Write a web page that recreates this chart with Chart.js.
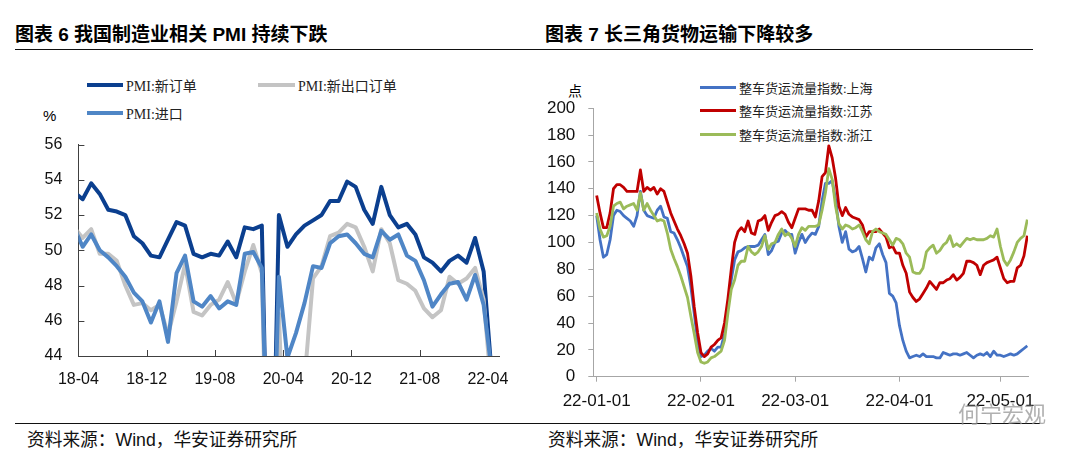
<!DOCTYPE html>
<html lang="zh-CN">
<head>
<meta charset="utf-8">
<title>制造业 PMI 与长三角货运</title>
<script src="https://cdn.jsdelivr.net/npm/chart.js@4.4.1/dist/chart.umd.min.js"></script>
<style>
  html, body { margin: 0; padding: 0; background: #fff; }
  body { width: 1080px; height: 460px; position: relative; overflow: hidden;
         font-family: "Liberation Sans", "Noto Sans CJK SC", sans-serif; color: #000; }
  .abs { position: absolute; white-space: nowrap; }
  .title { font-weight: bold; font-size: 19px; line-height: 22px; }
  .rule { position: absolute; height: 0; border-top: 1.5px solid #111; }
  .lg { position: absolute; height: 16px; display: flex; align-items: center; white-space: nowrap;
        font-family: "Liberation Serif", "Noto Sans CJK SC", serif; color: #222; }
  .lg i { display: inline-block; margin-right: 3px; }
  .src { font-size: 17.7px; color: #111; }
  canvas { position: absolute; }
</style>
</head>
<body>

<div class="abs title" style="left:15px; top:24px;">图表 6 我国制造业相关 PMI 持续下跌</div>
<div class="abs title" style="left:545px; top:24px;">图表 7 长三角货物运输下降较多</div>
<div class="rule" style="left:15px; top:49px; width:1018px;"></div>

<!-- left legend -->
<div class="lg" style="left:87px; top:77px; font-size:14px;"><i style="width:36px; border-top:4px solid #0b3f8f;"></i>PMI:新订单</div>
<div class="lg" style="left:258px; top:77px; font-size:14px;"><i style="width:37px; border-top:4px solid #c4c4c4;"></i>PMI:新出口订单</div>
<div class="lg" style="left:87px; top:105px; font-size:14px;"><i style="width:36px; border-top:4px solid #4f86c6;"></i>PMI:进口</div>
<div class="abs" style="left:43px; top:107px; font-size:15px;">%</div>

<!-- right legend -->
<div class="lg" style="left:700px; top:79px; font-size:13px;"><i style="width:36px; border-top:3px solid #4472c4;"></i>整车货运流量指数:上海</div>
<div class="lg" style="left:700px; top:102px; font-size:13px;"><i style="width:36px; border-top:3px solid #c00000;"></i>整车货运流量指数:江苏</div>
<div class="lg" style="left:700px; top:126px; font-size:13px;"><i style="width:36px; border-top:3px solid #9bbb59;"></i>整车货运流量指数:浙江</div>
<div class="abs" style="left:568px; top:80px; font-size:14px;">点</div>

<canvas id="pmi" width="530" height="281" style="left:0; top:119px;"></canvas>
<canvas id="freight" width="540" height="330" style="left:540px; top:85px;"></canvas>

<div class="rule" style="left:15px; top:423px; width:1025px;"></div>
<div class="abs src" style="left:27px; top:425px;">资料来源：Wind，华安证券研究所</div>
<div class="abs src" style="left:548px; top:425px;">资料来源：Wind，华安证券研究所</div>
<div class="abs" style="left:958px; top:396px; font-size:22px; color:rgba(150,150,150,0.75);">何宁宏观</div>

<script>
// ---- 图表6: PMI monthly, 18-03 .. 22-04 (18-03 sits left of the axis and gets clipped)
const pmiMonths = [
  '18-03','18-04','18-05','18-06','18-07','18-08','18-09','18-10','18-11','18-12',
  '19-01','19-02','19-03','19-04','19-05','19-06','19-07','19-08','19-09','19-10','19-11','19-12',
  '20-01','20-02','20-03','20-04','20-05','20-06','20-07','20-08','20-09','20-10','20-11','20-12',
  '21-01','21-02','21-03','21-04','21-05','21-06','21-07','21-08','21-09','21-10','21-11','21-12',
  '22-01','22-02','22-03','22-04'
];
const newOrders = [
  53.3, 52.9, 53.8, 53.2, 52.3, 52.2, 52.0, 50.8, 50.4, 49.7,
  49.6, 50.6, 51.6, 51.4, 49.8, 49.6, 49.8, 49.7, 50.5, 49.6, 51.3, 51.2,
  51.4, 29.3, 52.0, 50.2, 50.9, 51.4, 51.7, 52.0, 52.8, 52.8, 53.9, 53.6,
  52.3, 51.5, 53.6, 52.0, 51.3, 51.5, 50.9, 49.6, 49.3, 48.8, 49.4, 49.7,
  49.3, 50.7, 48.8, 42.6
];
const exportOrders = [
  51.3, 50.7, 51.2, 49.8, 49.8, 49.4, 48.0, 46.9, 47.0, 46.6,
  46.9, 45.2, 47.1, 49.2, 46.5, 46.3, 46.9, 47.2, 48.2, 47.0, 48.8, 50.3,
  48.7, 28.7, 46.4, 33.5, 35.3, 42.6, 48.4, 49.1, 50.8, 51.0, 51.5, 51.3,
  50.2, 48.8, 51.2, 50.4, 48.3, 48.1, 47.7, 46.7, 46.2, 46.6, 48.5, 48.1,
  48.4, 49.0, 47.2, 41.6
];
const imports = [
  51.3, 50.2, 50.9, 50.0, 49.6, 49.1, 48.5, 47.6, 47.1, 45.9,
  47.1, 44.8, 48.7, 49.7, 47.1, 46.8, 47.4, 46.7, 47.1, 46.9, 49.8, 49.9,
  49.0, 31.9, 48.5, 43.9, 45.3, 47.0, 49.1, 49.0, 50.4, 50.8, 50.9, 50.4,
  49.8, 49.6, 51.1, 50.6, 50.9, 49.7, 49.4, 48.3, 46.8, 47.5, 48.1, 48.2,
  47.2, 48.6, 46.9, 42.9
];
const pmiTickLabels = ['18-04', '18-12', '19-08', '20-04', '20-12', '21-08', '22-04'];

// ---- 图表7: daily freight index, day 0 = 2022-01-01
const freightStart = '2022-01-01';
const shanghai = [
  120, 102, 89, 91, 102, 120, 124, 123, 120, 118, 116, 112, 120, 138, 124, 120, 119, 118, 124, 127,
  119, 118, 108, 107, 102, 96, 89, 82, 67, 47, 27, 15, 16, 19, 21, 19, 22, 22, 32, 52,
  72, 87, 93, 94, 96, 97, 97, 97, 98, 102, 106, 91, 94, 100, 101, 107, 109, 106, 106, 92,
  100, 106, 100, 104, 107, 106, 112, 131, 144, 144, 146, 132, 112, 100, 108, 95, 93, 94, 97, 88,
  78, 89, 87, 96, 99, 91, 85, 62, 60, 55, 38, 27, 19, 14, 15, 16, 15, 17, 15, 15,
  15, 14, 14, 18, 17, 16, 17, 17, 16, 17, 18, 16, 14, 16, 17, 16, 18, 15, 19, 16,
  16, 15, 16, 17, 16, 17, 19, 21, 23
];
const jiangsu = [
  135, 122, 111, 111, 122, 140, 143, 143, 141, 138, 138, 138, 138, 154, 138, 141, 139, 141, 136, 140,
  138, 130, 122, 116, 110, 105, 99, 92, 75, 52, 33, 18, 15, 17, 22, 24, 27, 29, 40, 58,
  80, 100, 108, 111, 108, 116, 107, 106, 116, 117, 120, 109, 115, 120, 121, 123, 121, 115, 111, 118,
  125, 125, 125, 124, 124, 119, 131, 149, 152, 172, 163, 148, 127, 120, 126, 121, 119, 118, 117, 113,
  104, 108, 108, 108, 110, 107, 104, 96, 97, 92, 92, 83, 77, 63, 59, 56, 58, 62, 66, 71,
  68, 65, 70, 70, 72, 73, 76, 72, 74, 77, 86, 86, 85, 83, 76, 83, 85, 86, 87, 89,
  81, 73, 70, 71, 71, 81, 83, 90, 105
];
const zhejiang = [
  122, 110, 104, 105, 112, 127, 129, 130, 125, 127, 128, 129, 124, 137, 124, 129, 124, 120, 116, 117,
  116, 107, 95, 88, 82, 75, 67, 59, 45, 32, 18, 11, 10, 11, 14, 15, 17, 19, 27, 47,
  65, 72, 83, 86, 86, 97, 93, 91, 93, 97, 105, 95, 99, 100, 106, 110, 105, 107, 103, 97,
  106, 111, 109, 112, 112, 112, 113, 124, 137, 155, 147, 127, 114, 110, 113, 112, 110, 111, 113, 108,
  102, 99, 108, 110, 108, 107, 106, 102, 98, 103, 102, 99, 92, 89, 78, 77, 77, 81, 93, 96,
  98, 92, 94, 98, 100, 105, 97, 99, 97, 100, 103, 102, 103, 102, 102, 102, 103, 105, 104, 110,
  97, 87, 83, 87, 93, 100, 103, 105, 117
];
const freightTickLabels = ['22-01-01', '22-02-01', '22-03-01', '22-04-01', '22-05-01'];

const tickFont = { family: 'Liberation Sans', size: 16 };

// Excel-style tick marks pointing into the plot
const insideTicks = {
  id: 'insideTicks',
  beforeDatasetsDraw(chart) {
    const { ctx, chartArea: a, scales: { x, y } } = chart;
    ctx.save();
    ctx.strokeStyle = '#404040';
    ctx.lineWidth = 1;
    ctx.beginPath();
    x.ticks.forEach(t => {
      const px = Math.round(x.getPixelForValue(t.value)) + 0.5;
      ctx.moveTo(px, a.bottom); ctx.lineTo(px, a.bottom - 6);
    });
    y.ticks.forEach(t => {
      const py = Math.round(y.getPixelForValue(t.value)) + 0.5;
      ctx.moveTo(a.left, py); ctx.lineTo(a.left + 6, py);
    });
    ctx.stroke();
    ctx.restore();
  }
};

// monthly points sit mid-month, ticks at month start
const monthSeries = (label, values, color, order) => ({
  label,
  data: values.map((v, i) => ({ x: i - 0.5, y: v })),
  borderColor: color,
  borderWidth: 4,
  order,
  clip: 0
});

// top of plot = half a label + tick padding, so the canvas is placed to suit
new Chart(document.getElementById('pmi'), {
  type: 'line',
  data: {
    datasets: [
      monthSeries('PMI:新订单', newOrders, '#0b3f8f', 2),
      monthSeries('PMI:新出口订单', exportOrders, '#c4c4c4', 1),
      monthSeries('PMI:进口', imports, '#4f86c6', 0)
    ]
  },
  options: {
    responsive: false,
    animation: false,
    layout: { padding: { top: 0, right: 31, bottom: 0, left: 0 } },
    elements: { point: { radius: 0 }, line: { tension: 0, borderJoinStyle: 'round' } },
    plugins: { legend: { display: false }, tooltip: { enabled: false } },
    scales: {
      x: {
        type: 'linear', min: 0, max: 49.3,
        afterBuildTicks: s => { s.ticks = pmiTickLabels.map(l => ({ value: pmiMonths.indexOf(l) - 1 })); },
        afterFit: s => { s.height = 44; },
        grid: { display: false, drawTicks: false },
        border: { display: true, color: '#404040', width: 1 },
        ticks: { padding: 14, color: '#111', font: tickFont, autoSkip: false, maxRotation: 0,
                 callback: v => pmiMonths[v + 1] }
      },
      y: {
        min: 44, max: 56,
        afterFit: s => { s.width = 78.4; },
        grid: { display: false, drawTicks: false },
        border: { display: true, color: '#404040', width: 1 },
        ticks: { stepSize: 2, padding: 16, color: '#111', font: tickFont }
      }
    }
  },
  plugins: [insideTicks]
});

const dayIndex = label => Math.round((Date.parse('20' + label) - Date.parse(freightStart)) / 864e5);

const daySeries = (label, values, color, order) => ({
  label,
  data: values.map((v, i) => ({ x: i, y: v })),
  borderColor: color,
  borderWidth: 2.8,
  order
});

new Chart(document.getElementById('freight'), {
  type: 'line',
  data: {
    datasets: [
      daySeries('整车货运流量指数:上海', shanghai, '#4472c4', 2),
      daySeries('整车货运流量指数:江苏', jiangsu, '#c00000', 1),
      daySeries('整车货运流量指数:浙江', zhejiang, '#9bbb59', 0)
    ]
  },
  options: {
    responsive: false,
    animation: false,
    layout: { padding: { top: 0, right: 52, bottom: 0, left: 0 } },
    elements: { point: { radius: 0 }, line: { tension: 0, borderJoinStyle: 'round' } },
    plugins: { legend: { display: false }, tooltip: { enabled: false } },
    scales: {
      x: {
        type: 'linear', min: -1, max: 128.2,
        afterBuildTicks: s => { s.ticks = freightTickLabels.map(l => ({ value: dayIndex(l) })); },
        afterFit: s => { s.height = 38.3; },
        grid: { drawOnChartArea: false, drawTicks: true, tickLength: 5, color: '#a6a6a6' },
        border: { display: true, color: '#a6a6a6', width: 1 },
        ticks: { padding: 9, color: '#111', font: { family: 'Liberation Sans', size: 17 }, autoSkip: false, maxRotation: 0,
                 callback: v => freightTickLabels.find(l => dayIndex(l) === v) }
      },
      y: {
        min: 0, max: 200,
        afterFit: s => { s.width = 53.3; },
        grid: { drawOnChartArea: false, drawTicks: true, tickLength: 5, color: '#a6a6a6' },
        border: { display: true, color: '#a6a6a6', width: 1 },
        ticks: { stepSize: 20, padding: 13, color: '#111', font: { family: 'Liberation Sans', size: 17 } }
      }
    }
  }
});
</script>
</body>
</html>
